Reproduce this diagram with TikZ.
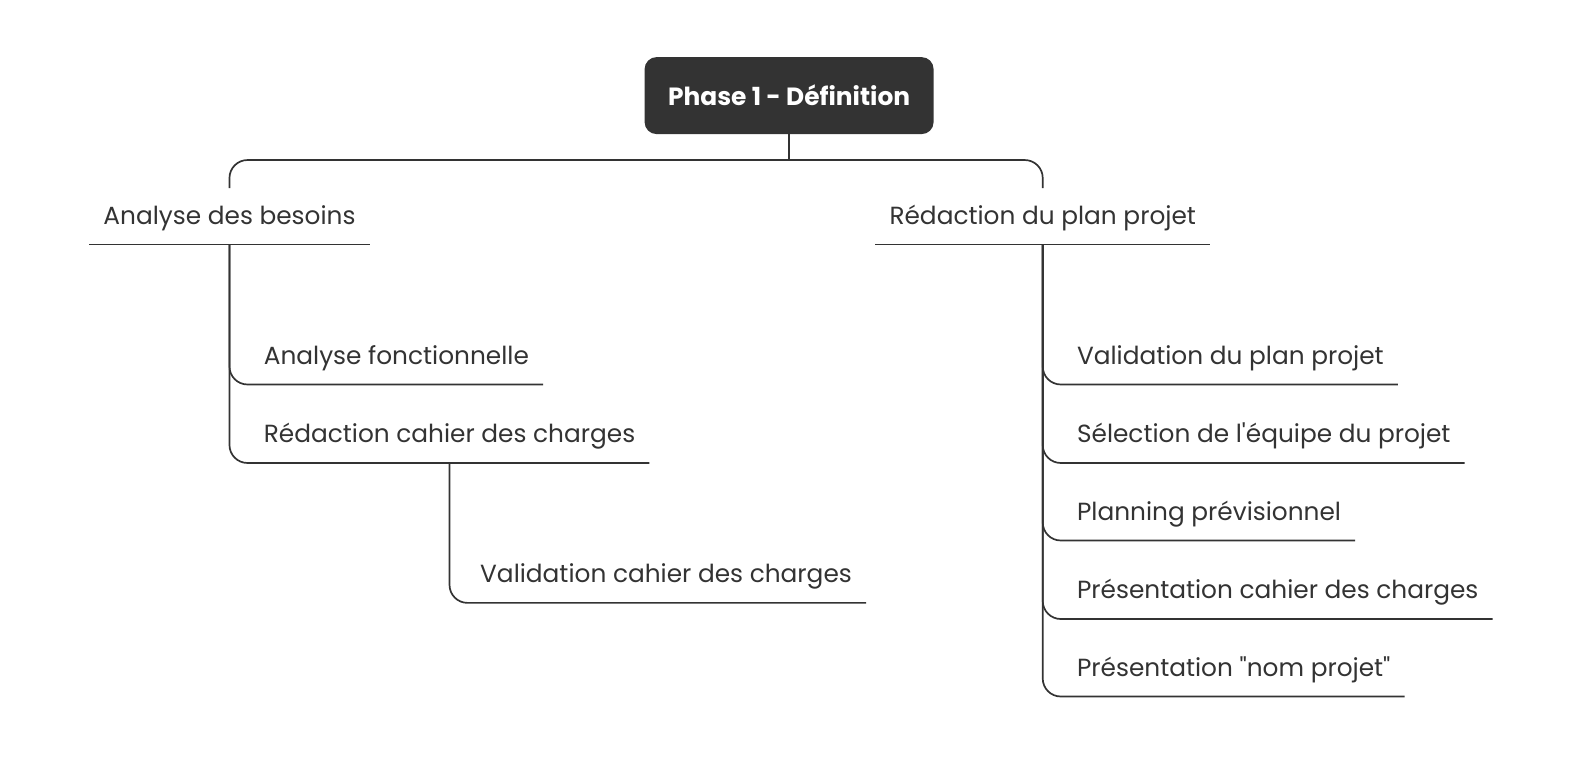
\documentclass[tikz,border=0pt]{standalone}
\usepackage{fontspec}
\newfontfamily\mapfont{Poppins}
\usetikzlibrary{positioning}
\definecolor{ink}{HTML}{333333}
\tikzset{
  root/.style={fill=ink, text=white, rounded corners=12bp, minimum width=289bp,
    minimum height=77bp, font=\mapfont\fontsize{25}{29}\selectfont\bfseries},
  topic/.style={text=ink, inner xsep=14bp, minimum height=56bp, text height=20bp,
    text depth=4bp, font=\mapfont\fontsize{24.9}{29}\selectfont},
  link/.style={draw=ink, line width=1.7bp, rounded corners=18bp},
}
\begin{document}
\begin{tikzpicture}[x=1.0065bp,y=-1.0065bp]
  \useasboundingbox (0bp,0bp) rectangle (1578bp,-774bp);
  \node[root] (root) at (784,95) {Phase 1 - Définition};
  \node[topic] (besoins) at (228,215) {Analyse des besoins};
  \node[topic] (plan) at (1036,215) {Rédaction du plan projet};
  % analyse des besoins
  \node[topic, anchor=south west] (fonct) at (248,382) {Analyse fonctionnelle};
  \node[topic, anchor=south west] (cahier) at (248,460) {Rédaction cahier des charges};
  \node[topic, anchor=south west] (valcahier) at (463,599) {Validation cahier des charges};
  % plan projet
  \node[topic, anchor=south west] (valplan) at (1056,382) {Validation du plan projet};
  \node[topic, anchor=south west] (equipe) at (1056,460) {Sélection de l'équipe du projet};
  \node[topic, anchor=south west] (planning) at (1056,537) {Planning prévisionnel};
  \node[topic, anchor=south west] (prescahier) at (1056,615) {Présentation cahier des charges};
  \node[topic, anchor=south west] (presnom) at (1056,692) {Présentation "nom projet"};
  \coordinate (hub) at (784,159);
  \begin{scope}[link]
    \draw (root.south) -- (hub);
    \draw (besoins.north) |- (hub) -| (plan.north);
    \draw (besoins.south west) -- (besoins.south east);
    \draw (plan.south west) -- (plan.south east);
    \draw (besoins.south) |- (fonct.south east);
    \draw (besoins.south) |- (cahier.south east);
    \draw (cahier.south) |- (valcahier.south east);
    \draw (plan.south) |- (valplan.south east);
    \draw (plan.south) |- (equipe.south east);
    \draw (plan.south) |- (planning.south east);
    \draw (plan.south) |- (prescahier.south east);
    \draw (plan.south) |- (presnom.south east);
  \end{scope}
\end{tikzpicture}
\end{document}
